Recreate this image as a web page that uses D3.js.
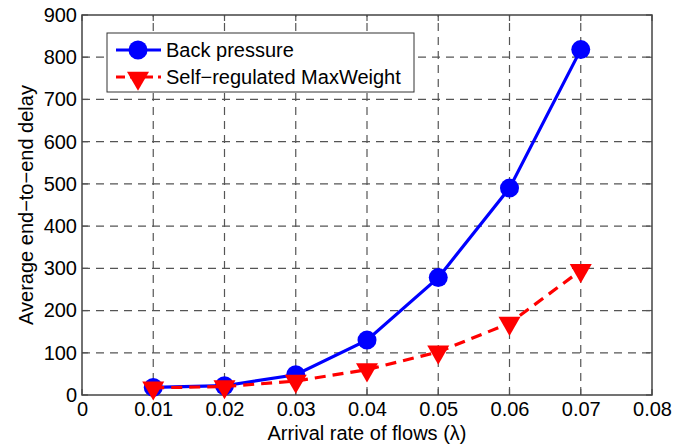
<!DOCTYPE html>
<html>
<head>
<meta charset="utf-8">
<script src="https://cdn.jsdelivr.net/npm/d3@7"></script>
<style>
  body { margin: 0; background: #fff; }
  text { font-family: "Liberation Sans", Arial, sans-serif; fill: #000; }
</style>
</head>
<body>
<script>
// data
const rates = [0.01, 0.02, 0.03, 0.04, 0.05, 0.06, 0.07];
const backPressure = [18, 22, 48, 130, 278, 490, 818];
const maxWeight = [17, 20, 33, 60, 102, 170, 295];
const xTicks = [0, 0.01, 0.02, 0.03, 0.04, 0.05, 0.06, 0.07, 0.08];
const yTicks = [0, 100, 200, 300, 400, 500, 600, 700, 800, 900];
const seriesNames = ["Back pressure", "Self\u2212regulated MaxWeight"];

const width = 688, height = 447;
const margin = {left: 82, right: 36, top: 15, bottom: 52};
const fs = 20;

const svg = d3.select("body").append("svg")
    .attr("width", width)
    .attr("height", height);

const x = d3.scaleLinear().domain([0, 0.08]).range([margin.left, width - margin.right]);
const y = d3.scaleLinear().domain([0, 900]).range([height - margin.bottom, margin.top]);

const gridColor = "#555";

// grid
svg.append("g")
  .selectAll("line")
  .data(xTicks.slice(1, -1))
  .join("line")
    .attr("x1", d => x(d)).attr("x2", d => x(d))
    .attr("y1", y(0)).attr("y2", y(900))
    .attr("stroke", gridColor).attr("stroke-width", 1.2)
    .attr("stroke-dasharray", "8,6");
svg.append("g")
  .selectAll("line")
  .data(yTicks.slice(1, -1))
  .join("line")
    .attr("x1", x(0)).attr("x2", x(0.08))
    .attr("y1", d => y(d)).attr("y2", d => y(d))
    .attr("stroke", gridColor).attr("stroke-width", 1.2)
    .attr("stroke-dasharray", "8,6");

// inner ticks on all four sides
const tk = 6;
const ticks = svg.append("g").attr("stroke", gridColor).attr("stroke-width", 1.2);
xTicks.forEach(t => {
  ticks.append("line").attr("x1", x(t)).attr("x2", x(t)).attr("y1", y(0)).attr("y2", y(0) - tk);
  ticks.append("line").attr("x1", x(t)).attr("x2", x(t)).attr("y1", y(900)).attr("y2", y(900) + tk);
});
yTicks.forEach(t => {
  ticks.append("line").attr("x1", x(0)).attr("x2", x(0) + tk).attr("y1", y(t)).attr("y2", y(t));
  ticks.append("line").attr("x1", x(0.08)).attr("x2", x(0.08) - tk).attr("y1", y(t)).attr("y2", y(t));
});

// frame
svg.append("rect")
    .attr("x", x(0)).attr("y", y(900))
    .attr("width", x(0.08) - x(0)).attr("height", y(0) - y(900))
    .attr("fill", "none").attr("stroke", "#444").attr("stroke-width", 1.5);

// tick labels via d3 axes (domain + tick lines hidden)
const xAxis = svg.append("g")
    .attr("transform", `translate(0,${y(0)})`)
    .call(d3.axisBottom(x).tickValues(xTicks).tickFormat(d => d === 0 ? "0" : d3.format(".2f")(d)).tickSize(0).tickPadding(7));
const yAxis = svg.append("g")
    .attr("transform", `translate(${x(0)},0)`)
    .call(d3.axisLeft(y).tickValues(yTicks).tickSize(0).tickPadding(5));
[xAxis, yAxis].forEach(a => {
  a.select(".domain").remove();
  a.selectAll("text").attr("font-size", fs).attr("font-family", "Liberation Sans, Arial, sans-serif");
});

svg.append("text")
    .attr("x", (x(0) + x(0.08)) / 2)
    .attr("y", 440)
    .attr("text-anchor", "middle")
    .attr("font-size", fs)
    .text("Arrival rate of flows (\u03bb)");
svg.append("text")
    .attr("transform", `translate(33,${(y(0) + y(900)) / 2}) rotate(-90)`)
    .attr("text-anchor", "middle")
    .attr("font-size", fs)
    .text("Average end\u2212to\u2212end delay");

// series
const line = d3.line().x(d => x(d[0])).y(d => y(d[1]));
const bpData = rates.map((r, i) => [r, backPressure[i]]);
const mwData = rates.map((r, i) => [r, maxWeight[i]]);

const tri = d3.symbol().type(d3.symbolTriangle).size(210);

svg.append("path")
    .datum(bpData)
    .attr("d", line)
    .attr("fill", "none").attr("stroke", "#0000ff").attr("stroke-width", 3.2);
svg.append("g").selectAll("circle")
  .data(bpData)
  .join("circle")
    .attr("cx", d => x(d[0])).attr("cy", d => y(d[1]))
    .attr("r", 9.5).attr("fill", "#0000ff");

svg.append("path")
    .datum(mwData)
    .attr("d", line)
    .attr("fill", "none").attr("stroke", "#ff0000").attr("stroke-width", 3.2)
    .attr("stroke-dasharray", "11,7");
svg.append("g").selectAll("path")
  .data(mwData)
  .join("path")
    .attr("d", tri)
    .attr("transform", d => `translate(${x(d[0])},${y(d[1])}) rotate(180)`)
    .attr("fill", "#ff0000");

// legend
const lg = svg.append("g");
lg.append("rect")
    .attr("x", 107).attr("y", 33).attr("width", 307).attr("height", 59)
    .attr("fill", "#fff").attr("stroke", "#333").attr("stroke-width", 1);
lg.append("line").attr("x1", 116).attr("x2", 161).attr("y1", 50).attr("y2", 50)
    .attr("stroke", "#0000ff").attr("stroke-width", 3.2);
lg.append("circle").attr("cx", 138).attr("cy", 50).attr("r", 9.5).attr("fill", "#0000ff");
lg.append("line").attr("x1", 116).attr("x2", 161).attr("y1", 77).attr("y2", 77)
    .attr("stroke", "#ff0000").attr("stroke-width", 3.2).attr("stroke-dasharray", "9,5");
lg.append("path").attr("d", tri).attr("transform", "translate(138,78) rotate(180)").attr("fill", "#ff0000");
lg.selectAll("text.lab")
  .data(seriesNames)
  .join("text")
    .attr("class", "lab")
    .attr("x", 166)
    .attr("y", (d, i) => 57 + i * 27)
    .attr("font-size", fs)
    .text(d => d);
</script>
</body>
</html>
